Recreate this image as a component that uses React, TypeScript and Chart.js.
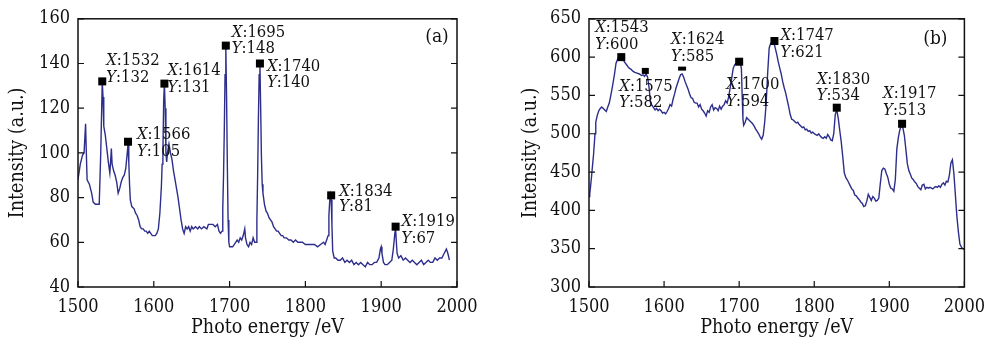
import { useEffect, useRef } from "react";
import { Chart, registerables } from "chart.js";
Chart.register(...registerables);

// ---------- Panel (a) data ----------
const energyA = [1500,1503,1506,1508,1510,1511,1512,1515,1518,1520,1523,1526,1528,1530,1532,1533,1534,1536,1538,1540,1542,1543,1544,1545,1547,1549,1551,1553,1555,1557,1559,1561,1563,1565,1566,1567,1568,1569,1571,1574,1576,1578,1580,1582,1584,1586,1588,1590,1592,1594,1596,1598,1600,1602,1604,1606,1608,1610,1611,1612,1613,1614,1615,1616,1617,1618,1620,1622,1624,1626,1628,1630,1632,1634,1636,1638,1640,1642,1644,1646,1648,1650,1652,1655,1658,1660,1663,1666,1670,1672,1675,1678,1681,1684,1686,1688,1690,1691,1692,1693,1694,1695,1696,1697,1698,1699,1700,1702,1704,1706,1708,1710,1712,1714,1716,1718,1720,1721,1723,1725,1727,1729,1731,1733,1735,1736,1737,1738,1739,1740,1741,1742,1743,1744,1746,1748,1750,1752,1754,1756,1758,1760,1762,1764,1766,1768,1770,1772,1775,1778,1781,1784,1787,1790,1793,1796,1800,1804,1808,1812,1816,1820,1824,1826,1828,1830,1831,1832,1833,1834,1835,1836,1838,1840,1843,1846,1849,1852,1855,1858,1861,1864,1867,1870,1873,1876,1879,1882,1885,1888,1891,1894,1897,1899,1900,1901,1903,1905,1908,1911,1914,1916,1918,1919,1920,1921,1923,1926,1929,1932,1935,1938,1941,1944,1947,1950,1953,1956,1959,1962,1965,1968,1971,1974,1977,1980,1983,1986,1988,1990];
const intensityA = [88,95,99,100,113,100,88,86,82,78,77,77,77,100,132,125,112,108,102,96,91,96,102,95,92,90,87,82,84,87,89,90,93,100,104,96,86,79,76,75,73,72,70,67,66,66,65,65,64,65,64,63,63,63,64,66,73,85,95,100,123,131,120,100,96,100,104,100,97,92,88,84,80,75,70,66,64,67,66,67,65,67,66,67,66,67,66,67,66,68,68,68,67,68,65,64,65,75,90,110,135,148,125,95,70,60,58,58,58,59,60,61,60,62,61,63,66,62,59,58,60,59,62,60,60,70,90,115,135,140,120,98,86,82,77,74,73,71,70,69,67,66,65,65,64,63,63,62,62,61,61,60,61,60,60,60,59,59,59,59,58,59,60,59,61,63,72,78,81,79,68,56,53,53,52,52,53,51,52,51,52,50,51,50,51,50,49,51,50,50,51,51,53,57,58,55,51,50,50,51,52,57,64,66,60,55,53,54,52,53,52,51,52,51,50,51,52,50,51,52,51,51,53,52,53,53,55,57,55,52];
const peakEnergyA = [1532, 1566, 1614, 1695, 1740, 1834, 1919];
const peakIntensityA = [132, 105, 131, 148, 140, 81, 67];

// ---------- Panel (b) data ----------
const energyB = [1500,1501,1503,1505,1506,1508,1509,1511,1513,1515,1517,1519,1521,1523,1525,1527,1528,1530,1532,1534,1536,1538,1540,1543,1545,1547,1550,1553,1556,1558,1561,1564,1567,1570,1572,1574,1576,1578,1580,1582,1584,1586,1588,1590,1592,1594,1596,1598,1600,1602,1604,1606,1608,1610,1612,1614,1616,1618,1620,1622,1624,1626,1628,1630,1632,1634,1636,1638,1640,1642,1644,1646,1648,1650,1652,1654,1656,1658,1660,1662,1664,1666,1668,1670,1672,1674,1676,1678,1680,1682,1684,1686,1688,1690,1692,1694,1696,1698,1700,1702,1703,1704,1705,1706,1708,1710,1712,1714,1716,1718,1720,1722,1724,1726,1728,1730,1732,1734,1736,1738,1740,1742,1744,1746,1748,1750,1752,1754,1756,1758,1760,1762,1764,1766,1768,1770,1772,1774,1776,1778,1780,1782,1784,1786,1788,1790,1792,1794,1796,1798,1800,1802,1804,1806,1808,1810,1812,1814,1816,1818,1820,1822,1824,1826,1828,1830,1832,1834,1836,1838,1840,1842,1845,1848,1850,1852,1854,1856,1858,1860,1862,1864,1866,1868,1870,1872,1874,1876,1878,1880,1882,1884,1886,1888,1890,1892,1894,1896,1898,1900,1902,1904,1906,1908,1910,1912,1914,1916,1918,1920,1922,1924,1926,1928,1930,1932,1934,1936,1938,1940,1942,1944,1946,1948,1950,1952,1954,1956,1958,1960,1962,1964,1966,1968,1970,1972,1974,1976,1978,1980,1982,1984,1986,1988,1990,1992,1994,1996,1998,2000];
const intensityB = [418,421,440,462,472,500,515,524,530,533,535,533,531,529,535,540,545,555,566,578,592,597,601,600,598,594,590,586,584,582,580,579,578,576,577,575,578,574,560,540,537,534,531,533,530,532,530,527,528,526,529,533,538,536,545,552,560,566,572,577,578,574,568,563,558,552,547,546,541,540,540,535,538,532,530,527,523,530,528,535,538,531,534,533,530,536,532,536,538,543,540,548,560,572,585,590,592,596,594,590,585,550,520,511,515,521,519,517,515,513,510,506,503,500,496,493,498,515,540,580,612,618,619,620,612,604,594,586,578,568,560,553,544,535,525,519,518,516,514,515,512,510,508,509,505,506,503,504,501,502,500,499,498,500,497,495,494,496,494,499,496,492,491,500,525,531,520,504,489,470,449,443,438,432,428,426,420,419,416,414,411,409,405,406,412,421,417,413,418,416,412,413,416,435,452,455,454,448,443,434,429,428,425,440,480,495,505,511,508,498,480,461,452,447,442,440,437,435,431,429,427,433,434,428,430,429,430,429,428,430,431,430,432,430,434,436,433,438,437,446,462,466,448,420,392,372,356,352,350,349];
const peakEnergyB = [1543, 1575, 1624, 1700, 1747, 1830, 1917];
const peakIntensityB = [600, 582, 585, 594, 621, 534, 513];

// ---------- Label layout (offsets from marker, marker size) ----------
// [dx, dyLine1, dyLine2, markerW, markerH]
const labelLayoutA = [
  [4, -21, -4, 8, 8],
  [9, -7, 10, 8, 8],
  [3, -13, 4, 8, 8],
  [6, -13, 3, 8, 8],
  [7, 3, 19, 8, 8],
  [8, -4, 11, 8, 8],
  [6, -5, 12, 8, 8],
];
const labelLayoutB = [
  [-26, -29, -12, 8, 8],
  [-26, 16, 32, 7, 6],
  [-11, -29, -12, 8, 4],
  [-13, 23, 40, 8, 8],
  [6, -5, 12, 8, 8],
  [-20, -28, -12, 8, 8],
  [-19, -30, -13, 8, 8],
];

const LINE_COLOR = "#2d2d8c";
const TEXT_COLOR = "#111";
const FONT_FAMILY = "'DejaVu Serif Condensed', 'DejaVu Serif', serif";

const overlayPlugin = {
  id: "overlay",
  afterDraw(chart: any, _args: any, opts: any) {
    const { ctx, chartArea: a, scales } = chart;
    const xs = scales.x;
    const ys = scales.y;
    ctx.save();
    ctx.strokeStyle = TEXT_COLOR;
    ctx.lineWidth = 1.5;
    ctx.strokeRect(a.left, a.top, a.right - a.left, a.bottom - a.top);
    const tl = 6;
    ctx.lineWidth = 1.2;
    ctx.beginPath();
    xs.ticks.forEach((t: any) => {
      const px = xs.getPixelForValue(t.value);
      ctx.moveTo(px, a.bottom);
      ctx.lineTo(px, a.bottom - tl);
    });
    ys.ticks.forEach((t: any) => {
      const py = ys.getPixelForValue(t.value);
      ctx.moveTo(a.left, py);
      ctx.lineTo(a.left + tl, py);
      ctx.moveTo(a.right, py);
      ctx.lineTo(a.right - tl, py);
    });
    ctx.stroke();

    const px: number[] = opts.peakX;
    const py: number[] = opts.peakY;
    const lay: number[][] = opts.layout;
    ctx.textBaseline = "middle";
    ctx.textAlign = "left";
    px.forEach((xv, i) => {
      const cx = xs.getPixelForValue(xv);
      const cy = ys.getPixelForValue(py[i]);
      const [dx, d1, d2, mw, mh] = lay[i];
      ctx.fillStyle = "#000";
      ctx.fillRect(cx - mw / 2, cy - mh / 2, mw, mh);
      ctx.fillStyle = TEXT_COLOR;
      const drawLine = (letter: string, val: number, dy: number) => {
        ctx.font = `italic 16.5px ${FONT_FAMILY}`;
        ctx.fillText(letter, cx + dx, cy + dy);
        const w = ctx.measureText(letter).width;
        ctx.font = `16.5px ${FONT_FAMILY}`;
        ctx.fillText(":" + val, cx + dx + w, cy + dy);
      };
      drawLine("X", xv, d1);
      drawLine("Y", py[i], d2);
    });

    ctx.font = `19px ${FONT_FAMILY}`;
    ctx.textAlign = "center";
    ctx.fillStyle = TEXT_COLOR;
    ctx.fillText(opts.panel, a.right - opts.panelDx, a.top + opts.panelDy);
    ctx.restore();
  },
};

function makeConfig(p: any) {
  return {
    type: "line",
    data: {
      datasets: [
        {
          data: p.energy.map((e: number, i: number) => ({ x: e, y: p.intensity[i] })),
          borderColor: LINE_COLOR,
          borderWidth: 1.4,
          pointRadius: 0,
          tension: 0,
          fill: false,
        },
      ],
    },
    options: {
      animation: false,
      responsive: false,
      maintainAspectRatio: false,
      layout: { padding: { left: 0, right: p.rightPad, top: 15, bottom: 0 } },
      plugins: {
        legend: { display: false },
        tooltip: { enabled: false },
        overlay: {
          peakX: p.peakX,
          peakY: p.peakY,
          layout: p.layout,
          panel: p.panel,
          panelDx: p.panelDx,
          panelDy: p.panelDy,
        },
      },
      scales: {
        x: {
          type: "linear",
          min: 1500,
          max: 2000,
          grid: { display: false, drawTicks: false },
          border: { display: false },
          ticks: {
            stepSize: 100,
            padding: 10,
            color: TEXT_COLOR,
            font: { family: FONT_FAMILY, size: 18 },
            maxRotation: 0,
            autoSkip: false,
            callback: (v: any) => String(v),
          },
          title: {
            display: true,
            text: "Photo energy /eV",
            color: TEXT_COLOR,
            font: { family: FONT_FAMILY, size: 19.5 },
            padding: { top: 0, bottom: 4 },
          },
          afterFit: (s: any) => {
            s.height = 57;
          },
        },
        y: {
          type: "linear",
          min: p.yMin,
          max: p.yMax,
          grid: { display: false, drawTicks: false },
          border: { display: false },
          ticks: {
            stepSize: p.yStep,
            padding: 8,
            color: TEXT_COLOR,
            font: { family: FONT_FAMILY, size: 18 },
            callback: (v: any) => String(v),
          },
          title: {
            display: true,
            text: "Intensity (a.u.)",
            color: TEXT_COLOR,
            font: { family: FONT_FAMILY, size: 19.5 },
            padding: { top: p.yTitlePad, bottom: 0 },
          },
          afterFit: (s: any) => {
            s.width = p.leftW;
          },
        },
      },
    },
    plugins: [overlayPlugin],
  };
}

function Panel(props: any) {
  const ref = useRef<HTMLCanvasElement>(null);
  useEffect(() => {
    const chart = new Chart(ref.current as HTMLCanvasElement, makeConfig(props) as any);
    return () => chart.destroy();
  }, []);
  return (
    <canvas
      ref={ref}
      width={props.width}
      height={344}
      style={{ position: "absolute", left: props.left, top: 0, width: props.width, height: 344 }}
    />
  );
}

export default function App() {
  return (
    <div style={{ position: "absolute", left: 0, top: 0, width: 995, height: 344, background: "#fff" }}>
      <Panel
        left={0}
        width={495}
        energy={energyA}
        intensity={intensityA}
        peakX={peakEnergyA}
        peakY={peakIntensityA}
        layout={labelLayoutA}
        yMin={40}
        yMax={160}
        yStep={20}
        leftW={78}
        rightPad={38}
        yTitlePad={6}
        panel="(a)"
        panelDx={20}
        panelDy={18}
      />
      <Panel
        left={495}
        width={500}
        energy={energyB}
        intensity={intensityB}
        peakX={peakEnergyB}
        peakY={peakIntensityB}
        layout={labelLayoutB}
        yMin={300}
        yMax={650}
        yStep={50}
        leftW={94}
        rightPad={27}
        yTitlePad={24}
        panel="(b)"
        panelDx={29}
        panelDy={20}
      />
    </div>
  );
}
